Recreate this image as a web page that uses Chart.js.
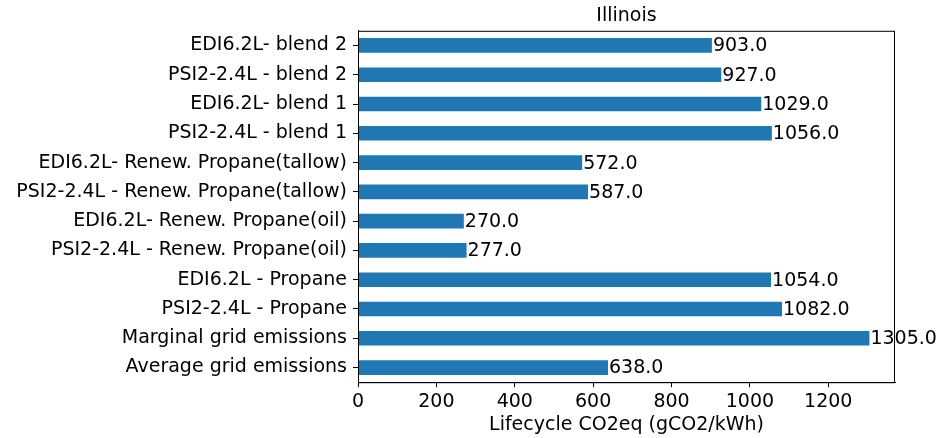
<!DOCTYPE html>
<html>
<head>
<meta charset="utf-8">
<script src="https://cdn.jsdelivr.net/npm/chart.js@4/dist/chart.umd.min.js"></script>
<style>
  html, body { margin: 0; padding: 0; background: #fff; }
  #wrap { width: 948px; height: 438px; }
</style>
</head>
<body>
<div id="wrap"><canvas id="chart"></canvas></div>
<script>
const categories = [
  'EDI6.2L- blend 2',
  'PSI2-2.4L - blend 2',
  'EDI6.2L- blend 1',
  'PSI2-2.4L - blend 1',
  'EDI6.2L- Renew. Propane(tallow)',
  'PSI2-2.4L - Renew. Propane(tallow)',
  'EDI6.2L- Renew. Propane(oil)',
  'PSI2-2.4L - Renew. Propane(oil)',
  'EDI6.2L - Propane',
  'PSI2-2.4L - Propane',
  'Marginal grid emissions',
  'Average grid emissions'
];
const emissions = [903, 927, 1029, 1056, 572, 587, 270, 277, 1054, 1082, 1305, 638];
const xTicks = [0, 200, 400, 600, 800, 1000, 1200];

const font = 'DejaVu Sans';
const fs = 19;

// writes the value at the end of each bar
const valueLabels = {
  id: 'valueLabels',
  afterDatasetsDraw(chart) {
    const ctx = chart.ctx;
    const meta = chart.getDatasetMeta(0);
    ctx.save();
    ctx.font = fs + 'px "' + font + '"';
    ctx.fillStyle = '#000';
    ctx.textAlign = 'left';
    ctx.textBaseline = 'middle';
    meta.data.forEach((bar, i) => {
      ctx.fillText(emissions[i].toFixed(1), bar.x + 1, bar.y + 1);
    });
    ctx.restore();
  }
};

new Chart(document.getElementById('chart'), {
  type: 'bar',
  data: {
    labels: categories,
    datasets: [{
      data: emissions,
      backgroundColor: '#1f77b4',
      borderWidth: 0,
      categoryPercentage: 1.0,
      barPercentage: 0.5
    }]
  },
  options: {
    indexAxis: 'y',
    responsive: true,
    maintainAspectRatio: false,
    animation: false,
    layout: { padding: { left: 0, right: 53, top: 0, bottom: 3 } },
    plugins: {
      legend: { display: false },
      tooltip: { enabled: false },
      title: {
        display: true,
        fullSize: false,
        text: 'Illinois',
        color: '#000',
        font: { family: font, size: fs, weight: 'normal' },
        padding: { top: 5, bottom: 3 }
      }
    },
    scales: {
      x: {
        min: 0,
        max: 1370.25,
        afterBuildTicks(scale) {
          scale.ticks = xTicks.map(v => ({ value: v }));
        },
        ticks: {
          color: '#000',
          font: { family: font, size: fs },
          padding: 3,
          maxRotation: 0,
          callback: v => String(v)
        },
        grid: {
          drawOnChartArea: false,
          drawTicks: true,
          tickLength: 5,
          color: '#000'
        },
        border: { display: true, color: '#000', width: 1 },
        title: {
          display: true,
          text: 'Lifecycle CO2eq (gCO2/kWh)',
          color: '#000',
          font: { family: font, size: fs, lineHeight: 1.0 },
          padding: { top: 0, bottom: 0 }
        }
      },
      y: {
        afterFit(scale) { scale.width = 358; },
        ticks: {
          color: '#000',
          font: { family: font, size: fs },
          padding: 6
        },
        grid: {
          offset: false,
          drawOnChartArea: false,
          drawTicks: true,
          tickLength: 5,
          color: '#000'
        },
        border: { display: true, color: '#000', width: 1 }
      }
    }
  },
  plugins: [valueLabels, {
    id: 'frame',
    afterDraw(chart) {
      const a = chart.chartArea;
      const ctx = chart.ctx;
      ctx.save();
      ctx.strokeStyle = '#000';
      ctx.lineWidth = 1;
      ctx.strokeRect(a.left + 0.5, a.top + 0.5, a.right - a.left - 1, a.bottom - a.top);
      ctx.restore();
    }
  }]
});
</script>
</body>
</html>
